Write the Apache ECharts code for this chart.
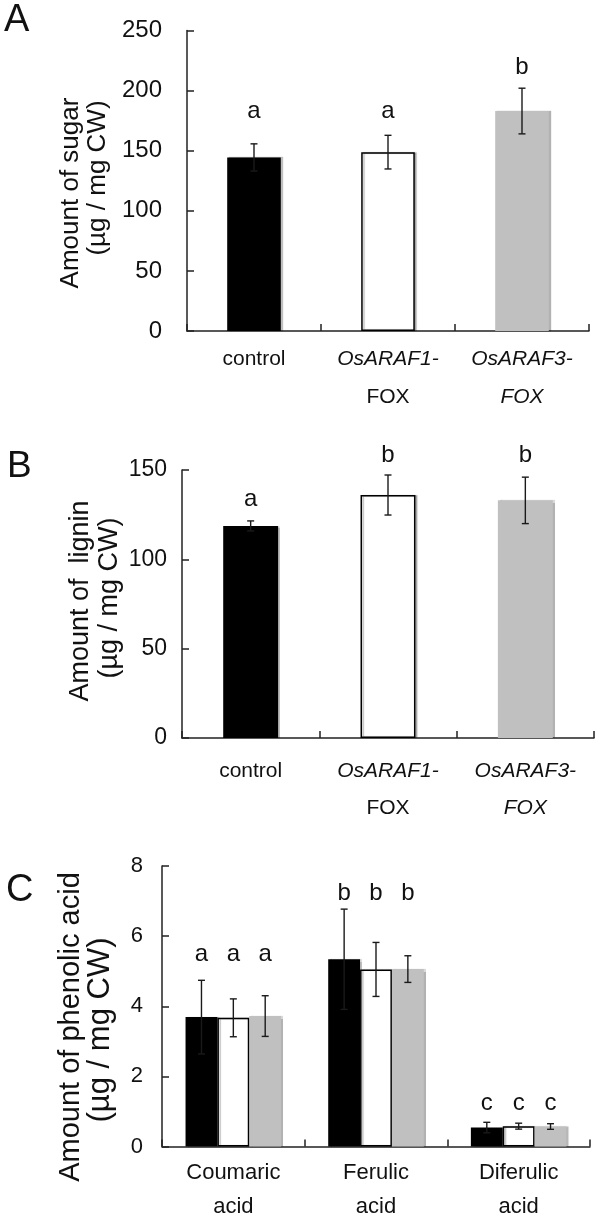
<!DOCTYPE html>
<html>
<head>
<meta charset="utf-8">
<script src="https://cdn.jsdelivr.net/npm/echarts@6/dist/echarts.min.js"></script>
<style>
html,body{margin:0;padding:0;background:#fff;}
#chart{width:604px;height:1223px;}
</style>
</head>
<body>
<div id="chart"></div>
<script>
// ---------- DATA ----------
// Panels A and B: three lines
const groupLine1 = ['control', 'OsARAF1-', 'OsARAF3-'];
const groupLine1Italic = [false, true, true];
const groupLine2 = ['', 'FOX', 'FOX'];
const groupLine2Italic = [false, false, true];

// Panel A: sugar
const sugarTicks = [0, 50, 100, 150, 200, 250];
const sugarMean = [144.4, 148.8, 183.0];
const sugarErr = [11.3, 14.0, 19.0];
const sugarLetters = ['a', 'a', 'b'];
const sugarLetterLevel = [182.5, 182.5, 219.7];

// Panel B: lignin
const ligninTicks = [0, 50, 100, 150];
const ligninMean = [118.7, 136.0, 133.0];
const ligninErr = [2.8, 11.2, 13.0];
const ligninLetters = ['a', 'b', 'b'];
const ligninLetterLevel = [133.5, 158.0, 158.0];

// Panel C: phenolic acids
const acidTicks = [0, 2, 4, 6, 8];
const acidLine1 = ['Coumaric', 'Ferulic', 'Diferulic'];
const acidLine2 = ['acid', 'acid', 'acid'];
const acidControl = [3.69, 5.34, 0.54];
const acidControlErr = [1.05, 1.43, 0.15];
const acidARAF1 = [3.67, 5.05, 0.58];
const acidARAF1Err = [0.54, 0.77, 0.085];
const acidARAF3 = [3.72, 5.06, 0.57];
const acidARAF3Err = [0.58, 0.38, 0.08];
const acidLetters = ['a', 'b', 'c'];
const acidLetterLevel = [5.49, 7.22, 1.24];

// ---------- STYLES ----------
const FONT = '"Liberation Sans", Arial, Helvetica, sans-serif';
const TXT = '#111';
const barStyles = [
  {color: '#000000', shadowColor: 'rgba(0,0,0,0.25)', shadowOffsetX: 2, shadowBlur: 1},
  {color: '#ffffff', borderColor: '#000000', borderWidth: 1.5, shadowColor: 'rgba(0,0,0,0.25)', shadowOffsetX: 2, shadowBlur: 1},
  {color: '#c0c0c0', shadowColor: 'rgba(0,0,0,0.3)', shadowOffsetX: 2, shadowBlur: 1}
];
const axisLineStyle = {color: '#222', width: 1.5};

const chart = echarts.init(document.getElementById('chart'), null, {renderer: 'canvas'});

function groupLabelFormatter(value, index) {
  const s1 = groupLine1Italic[index] ? 'it' : 'n';
  const s2 = groupLine2Italic[index] ? 'it' : 'n';
  let out = '{' + s1 + '|' + groupLine1[index] + '}';
  if (groupLine2[index]) out += '\n{' + s2 + '|' + groupLine2[index] + '}';
  return out;
}
function richFor(size, lh) {
  return {
    n: {fontSize: size, fontFamily: FONT, color: TXT, lineHeight: lh},
    it: {fontSize: size, fontFamily: FONT, color: TXT, fontStyle: 'italic', lineHeight: lh}
  };
}

function xCat(gridIndex, data, formatter, margin, size, lh) {
  return {
    type: 'category', gridIndex: gridIndex, data: data,
    axisLine: {show: true, lineStyle: axisLineStyle},
    axisTick: {show: true, inside: true, length: 7, lineStyle: axisLineStyle},
    axisLabel: {interval: 0, margin: margin, formatter: formatter, rich: richFor(size, lh)},
    splitLine: {show: false}
  };
}
function yVal(gridIndex, ticks, margin, size) {
  return {
    type: 'value', gridIndex: gridIndex,
    min: ticks[0], max: ticks[ticks.length - 1], interval: ticks[1] - ticks[0],
    axisLine: {show: true, lineStyle: axisLineStyle},
    axisTick: {show: true, inside: true, length: 7, lineStyle: axisLineStyle},
    axisLabel: {margin: margin, fontSize: size, fontFamily: FONT, color: TXT},
    splitLine: {show: false}
  };
}

// error bars for single-series panels and multi-series panel
function errorSeries(axisIdx, means, errs, slot, nSlots, gap) {
  return {
    type: 'custom', xAxisIndex: axisIdx, yAxisIndex: axisIdx, z: 5,
    data: means.map((m, i) => [i, m, errs[i]]),
    encode: {x: 0, y: 1},
    renderItem: function (params, api) {
      const idx = api.value(0), m = api.value(1), e = api.value(2);
      const band = api.size([1, 0])[0];
      const bw = band * (1 - gap) / nSlots;
      const cx = api.coord([idx, m])[0] + (slot - (nSlots - 1) / 2) * bw;
      const yt = api.coord([idx, m + e])[1];
      const yb = api.coord([idx, m - e])[1];
      const st = {stroke: '#1a1a1a', lineWidth: 1.4};
      const cap = 3.5;
      return {type: 'group', children: [
        {type: 'line', shape: {x1: cx, y1: yt, x2: cx, y2: yb}, style: st},
        {type: 'line', shape: {x1: cx - cap, y1: yt, x2: cx + cap, y2: yt}, style: st},
        {type: 'line', shape: {x1: cx - cap, y1: yb, x2: cx + cap, y2: yb}, style: st}
      ]};
    }
  };
}
function letterSeries(axisIdx, letters, levels, slot, nSlots, gap, size) {
  return {
    type: 'custom', xAxisIndex: axisIdx, yAxisIndex: axisIdx, z: 6,
    data: levels.map((l, i) => [i, l]),
    encode: {x: 0, y: 1},
    renderItem: function (params, api) {
      const idx = api.value(0), l = api.value(1);
      const band = api.size([1, 0])[0];
      const bw = band * (1 - gap) / nSlots;
      const p = api.coord([idx, l]);
      const cx = p[0] + (slot - (nSlots - 1) / 2) * bw;
      return {type: 'text', x: cx, y: p[1], style: {
        text: letters[params.dataIndex], fontSize: size, fontFamily: FONT, fill: TXT,
        align: 'center', verticalAlign: 'middle'
      }};
    }
  };
}

const singleGap = 0.6;
const multiGap = 0.33;

const option = {
  animation: false,
  backgroundColor: '#ffffff',
  grid: [
    {left: 187, top: 30.5, width: 402, height: 300.5},
    {left: 182, top: 470, width: 412, height: 268},
    {left: 162, top: 866, width: 428, height: 280.5}
  ],
  xAxis: [
    xCat(0, groupLine1, groupLabelFormatter, 9, 21, 38),
    xCat(1, groupLine1, groupLabelFormatter, 15, 21, 37),
    xCat(2, acidLine1, function (v, i) {
      return '{n|' + acidLine1[i] + '}\n{n|' + acidLine2[i] + '}';
    }, 9, 22, 34)
  ],
  yAxis: [
    yVal(0, sugarTicks, 25, 24),
    yVal(1, ligninTicks, 15, 23),
    yVal(2, acidTicks, 19, 22)
  ],
  graphic: [
    {type: 'text', x: 4, y: 21, style: {text: 'A', fontSize: 38, fontFamily: FONT, fill: TXT, align: 'left', verticalAlign: 'middle'}},
    {type: 'text', x: 7, y: 467, style: {text: 'B', fontSize: 37, fontFamily: FONT, fill: TXT, align: 'left', verticalAlign: 'middle'}},
    {type: 'text', x: 6, y: 891, style: {text: 'C', fontSize: 38, fontFamily: FONT, fill: TXT, align: 'left', verticalAlign: 'middle'}},
    {type: 'text', x: 71, y: 193, rotation: Math.PI / 2, style: {text: 'Amount of sugar', fontSize: 26, fontFamily: FONT, fill: TXT, align: 'center', verticalAlign: 'middle'}},
    {type: 'text', x: 98, y: 178, rotation: Math.PI / 2, style: {text: '(µg / mg CW)', fontSize: 26, fontFamily: FONT, fill: TXT, align: 'center', verticalAlign: 'middle'}},
    {type: 'text', x: 81, y: 601, rotation: Math.PI / 2, style: {text: 'Amount of  lignin', fontSize: 27, fontFamily: FONT, fill: TXT, align: 'center', verticalAlign: 'middle'}},
    {type: 'text', x: 110, y: 598, rotation: Math.PI / 2, style: {text: '(µg / mg CW)', fontSize: 27, fontFamily: FONT, fill: TXT, align: 'center', verticalAlign: 'middle'}},
    {type: 'text', x: 71, y: 1027, rotation: Math.PI / 2, style: {text: 'Amount of phenolic acid', fontSize: 29, fontFamily: FONT, fill: TXT, align: 'center', verticalAlign: 'middle'}},
    {type: 'text', x: 100, y: 1030, rotation: Math.PI / 2, style: {text: '(µg / mg CW)', fontSize: 31, fontFamily: FONT, fill: TXT, align: 'center', verticalAlign: 'middle'}}
  ],
  series: [
    {type: 'bar', xAxisIndex: 0, yAxisIndex: 0, barCategoryGap: '60%',
      data: sugarMean.map((v, i) => ({value: v, itemStyle: barStyles[i]}))},
    errorSeries(0, sugarMean, sugarErr, 0, 1, singleGap),
    letterSeries(0, sugarLetters, sugarLetterLevel, 0, 1, singleGap, 24),

    {type: 'bar', xAxisIndex: 1, yAxisIndex: 1, barCategoryGap: '60%',
      data: ligninMean.map((v, i) => ({value: v, itemStyle: barStyles[i]}))},
    errorSeries(1, ligninMean, ligninErr, 0, 1, singleGap),
    letterSeries(1, ligninLetters, ligninLetterLevel, 0, 1, singleGap, 24),

    {type: 'bar', name: 'control', xAxisIndex: 2, yAxisIndex: 2, barGap: '0%', barCategoryGap: '33%', data: acidControl, itemStyle: barStyles[0]},
    {type: 'bar', name: 'OsARAF1-FOX', xAxisIndex: 2, yAxisIndex: 2, barGap: '0%', barCategoryGap: '33%', data: acidARAF1, itemStyle: barStyles[1]},
    {type: 'bar', name: 'OsARAF3-FOX', xAxisIndex: 2, yAxisIndex: 2, barGap: '0%', barCategoryGap: '33%', data: acidARAF3, itemStyle: barStyles[2]},
    errorSeries(2, acidControl, acidControlErr, 0, 3, multiGap),
    errorSeries(2, acidARAF1, acidARAF1Err, 1, 3, multiGap),
    errorSeries(2, acidARAF3, acidARAF3Err, 2, 3, multiGap),
    letterSeries(2, acidLetters, acidLetterLevel, 0, 3, multiGap, 24),
    letterSeries(2, acidLetters, acidLetterLevel, 1, 3, multiGap, 24),
    letterSeries(2, acidLetters, acidLetterLevel, 2, 3, multiGap, 24)
  ]
};
chart.setOption(option);
</script>
</body>
</html>
